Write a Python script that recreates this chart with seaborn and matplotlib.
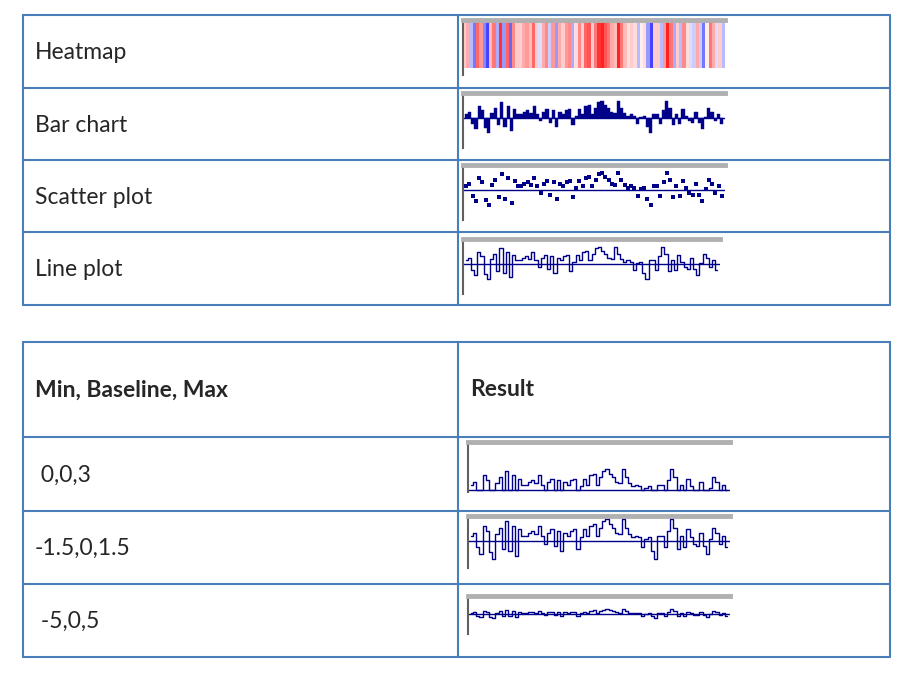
import numpy as np
import pandas as pd
import seaborn as sns
import matplotlib.pyplot as plt

sns.set_style("white")
plt.rcParams['font.family'] = ['Lato', 'DejaVu Sans']

# sparkline values
values = [0.3, 0.5, -0.4, -0.8, 0.9, 0.6, -0.7, -1.1, 0.4, 0.8, -0.5, 1.2, -0.6, 0.9, -0.9, 0.7,
          0.3, 0.3, 0.5, 0.6, 0.4, 0.9, 0.3, -0.2, 0.5, 0.7, -0.3, 0.6, -0.6, 0.5, 0.3, 0.6,
          0.7, -0.5, 0.2, 0.7, 0.3, 0.9, 1.0, 0.3, 0.8, 1.2, 1.3, 1.0, 0.8, 0.5, 0.4, 1.3,
          0.8, 0.4, 0.2, 0.3, 0.2, -0.4, 0.1, 0.2, -0.6, -1.1, 0.3, 0.3, -0.4, 0.6, 1.3, 0.8,
          -0.5, 0.3, -0.4, 0.7, 0.2, -0.2, -0.3, 0.5, -0.3, -0.8, 0.1, 0.8, 0.5, -0.2, 0.3, -0.4]
idx = list(range(len(values)))
df = pd.DataFrame({"i": idx, "v": values})

labels_t1 = ["Heatmap", "Bar chart", "Scatter plot", "Line plot"]
labels_t2 = [" 0,0,3", "-1.5,0,1.5", " -5,0,5"]
ranges_t2 = [(0, 0, 3), (-1.5, 0, 1.5), (-5, 0, 5)]
navy = "#00008b"
border = "#4a7ebb"
fs = 16.5

fig = plt.figure(figsize=(9.1, 6.76), dpi=100)
bg = fig.add_axes([0, 0, 1, 1])
bg.set_xlim(0, 910)
bg.set_ylim(676, 0)
bg.axis("off")

def grid(ys, xs):
    for y in ys:
        bg.plot([xs[0], xs[-1]], [y, y], color=border, lw=1.5)
    for x in xs:
        bg.plot([x, x], [ys[0], ys[-1]], color=border, lw=1.5)

ys1 = [15, 88, 160, 232, 305]
grid(ys1, [23, 458, 890])
for k, t in enumerate(labels_t1):
    bg.text(35, (ys1[k] + ys1[k + 1]) / 2 + 1, t, va="center", fontsize=fs)

ys2 = [342, 437, 511, 584, 657]
grid(ys2, [23, 458, 890])
bg.text(35, 390, "Min, Baseline, Max", va="center", fontsize=fs, fontweight="bold")
bg.text(470, 390, "Result", va="center", fontsize=fs, fontweight="bold")
for k, t in enumerate(labels_t2):
    bg.text(35, (ys2[k + 1] + ys2[k + 2]) / 2 + 1, t, va="center", fontsize=fs)

def spark(x0, y0, x1, y1):
    ax = fig.add_axes([x0 / 910, 1 - y1 / 676, (x1 - x0) / 910, (y1 - y0) / 676])
    for s in ["right", "bottom"]:
        ax.spines[s].set_visible(False)
    ax.spines["top"].set_color("#b0b0b0")
    ax.spines["top"].set_linewidth(3.5)
    ax.spines["left"].set_color("#606060")
    ax.spines["left"].set_linewidth(1.5)
    ax.set_xticks([])
    ax.set_yticks([])
    return ax

# heatmap
ax = spark(463, 20, 725, 75)
sns.heatmap(np.array([values]), ax=ax, cmap="bwr", vmin=-1.5, vmax=1.5, cbar=False,
            xticklabels=False, yticklabels=False)
ax.set_ylim(1.15, -0.02)
for s in ["top", "left"]:
    ax.spines[s].set_visible(True)

# bar chart
ax = spark(463, 93, 725, 148)
sns.barplot(x=[str(i) for i in idx], y=values, ax=ax, color=navy, width=1.0,
            edgecolor=navy, linewidth=0.3, saturation=1)
ax.axhline(0, color=navy, lw=1)
ax.set_ylim(-2.2, 1.9)
ax.set_xlim(-1, len(values))
ax.set_xticks([]); ax.set_yticks([]); ax.set_xlabel(""); ax.set_ylabel("")

# scatter plot
ax = spark(463, 165, 725, 220)
sns.scatterplot(data=df, x="i", y="v", ax=ax, color=navy, marker="s", s=6, linewidth=0)
ax.axhline(0, color=navy, lw=1)
ax.set_ylim(-2.2, 1.9)
ax.set_xlim(-1, len(values))
ax.set_xlabel(""); ax.set_ylabel("")

# line plot
ax = spark(463, 239, 720, 294)
sns.lineplot(data=df, x="i", y="v", ax=ax, color=navy, lw=1, drawstyle="steps-mid")
ax.axhline(0, color=navy, lw=1)
ax.set_ylim(-2.2, 1.9)
ax.set_xlim(-1, len(values))
ax.set_xlabel(""); ax.set_ylabel("")

# result table
boxes = [(468, 442, 730, 492), (468, 516, 730, 568), (468, 596, 730, 634)]
for (lo, base, hi), (x0, y0, x1, y1) in zip(ranges_t2, boxes):
    ax = spark(x0, y0, x1, y1)
    clipped = pd.DataFrame({"i": idx, "v": np.clip(values, lo, hi)})
    sns.lineplot(data=clipped, x="i", y="v", ax=ax, color=navy, lw=1, drawstyle="steps-mid")
    ax.axhline(base, color=navy, lw=1)
    ax.set_ylim(lo - 0.05 * (hi - lo), hi)
    ax.set_xlim(-1, len(values))
    ax.set_xlabel(""); ax.set_ylabel("")

fig.savefig("out.png", dpi=100)
